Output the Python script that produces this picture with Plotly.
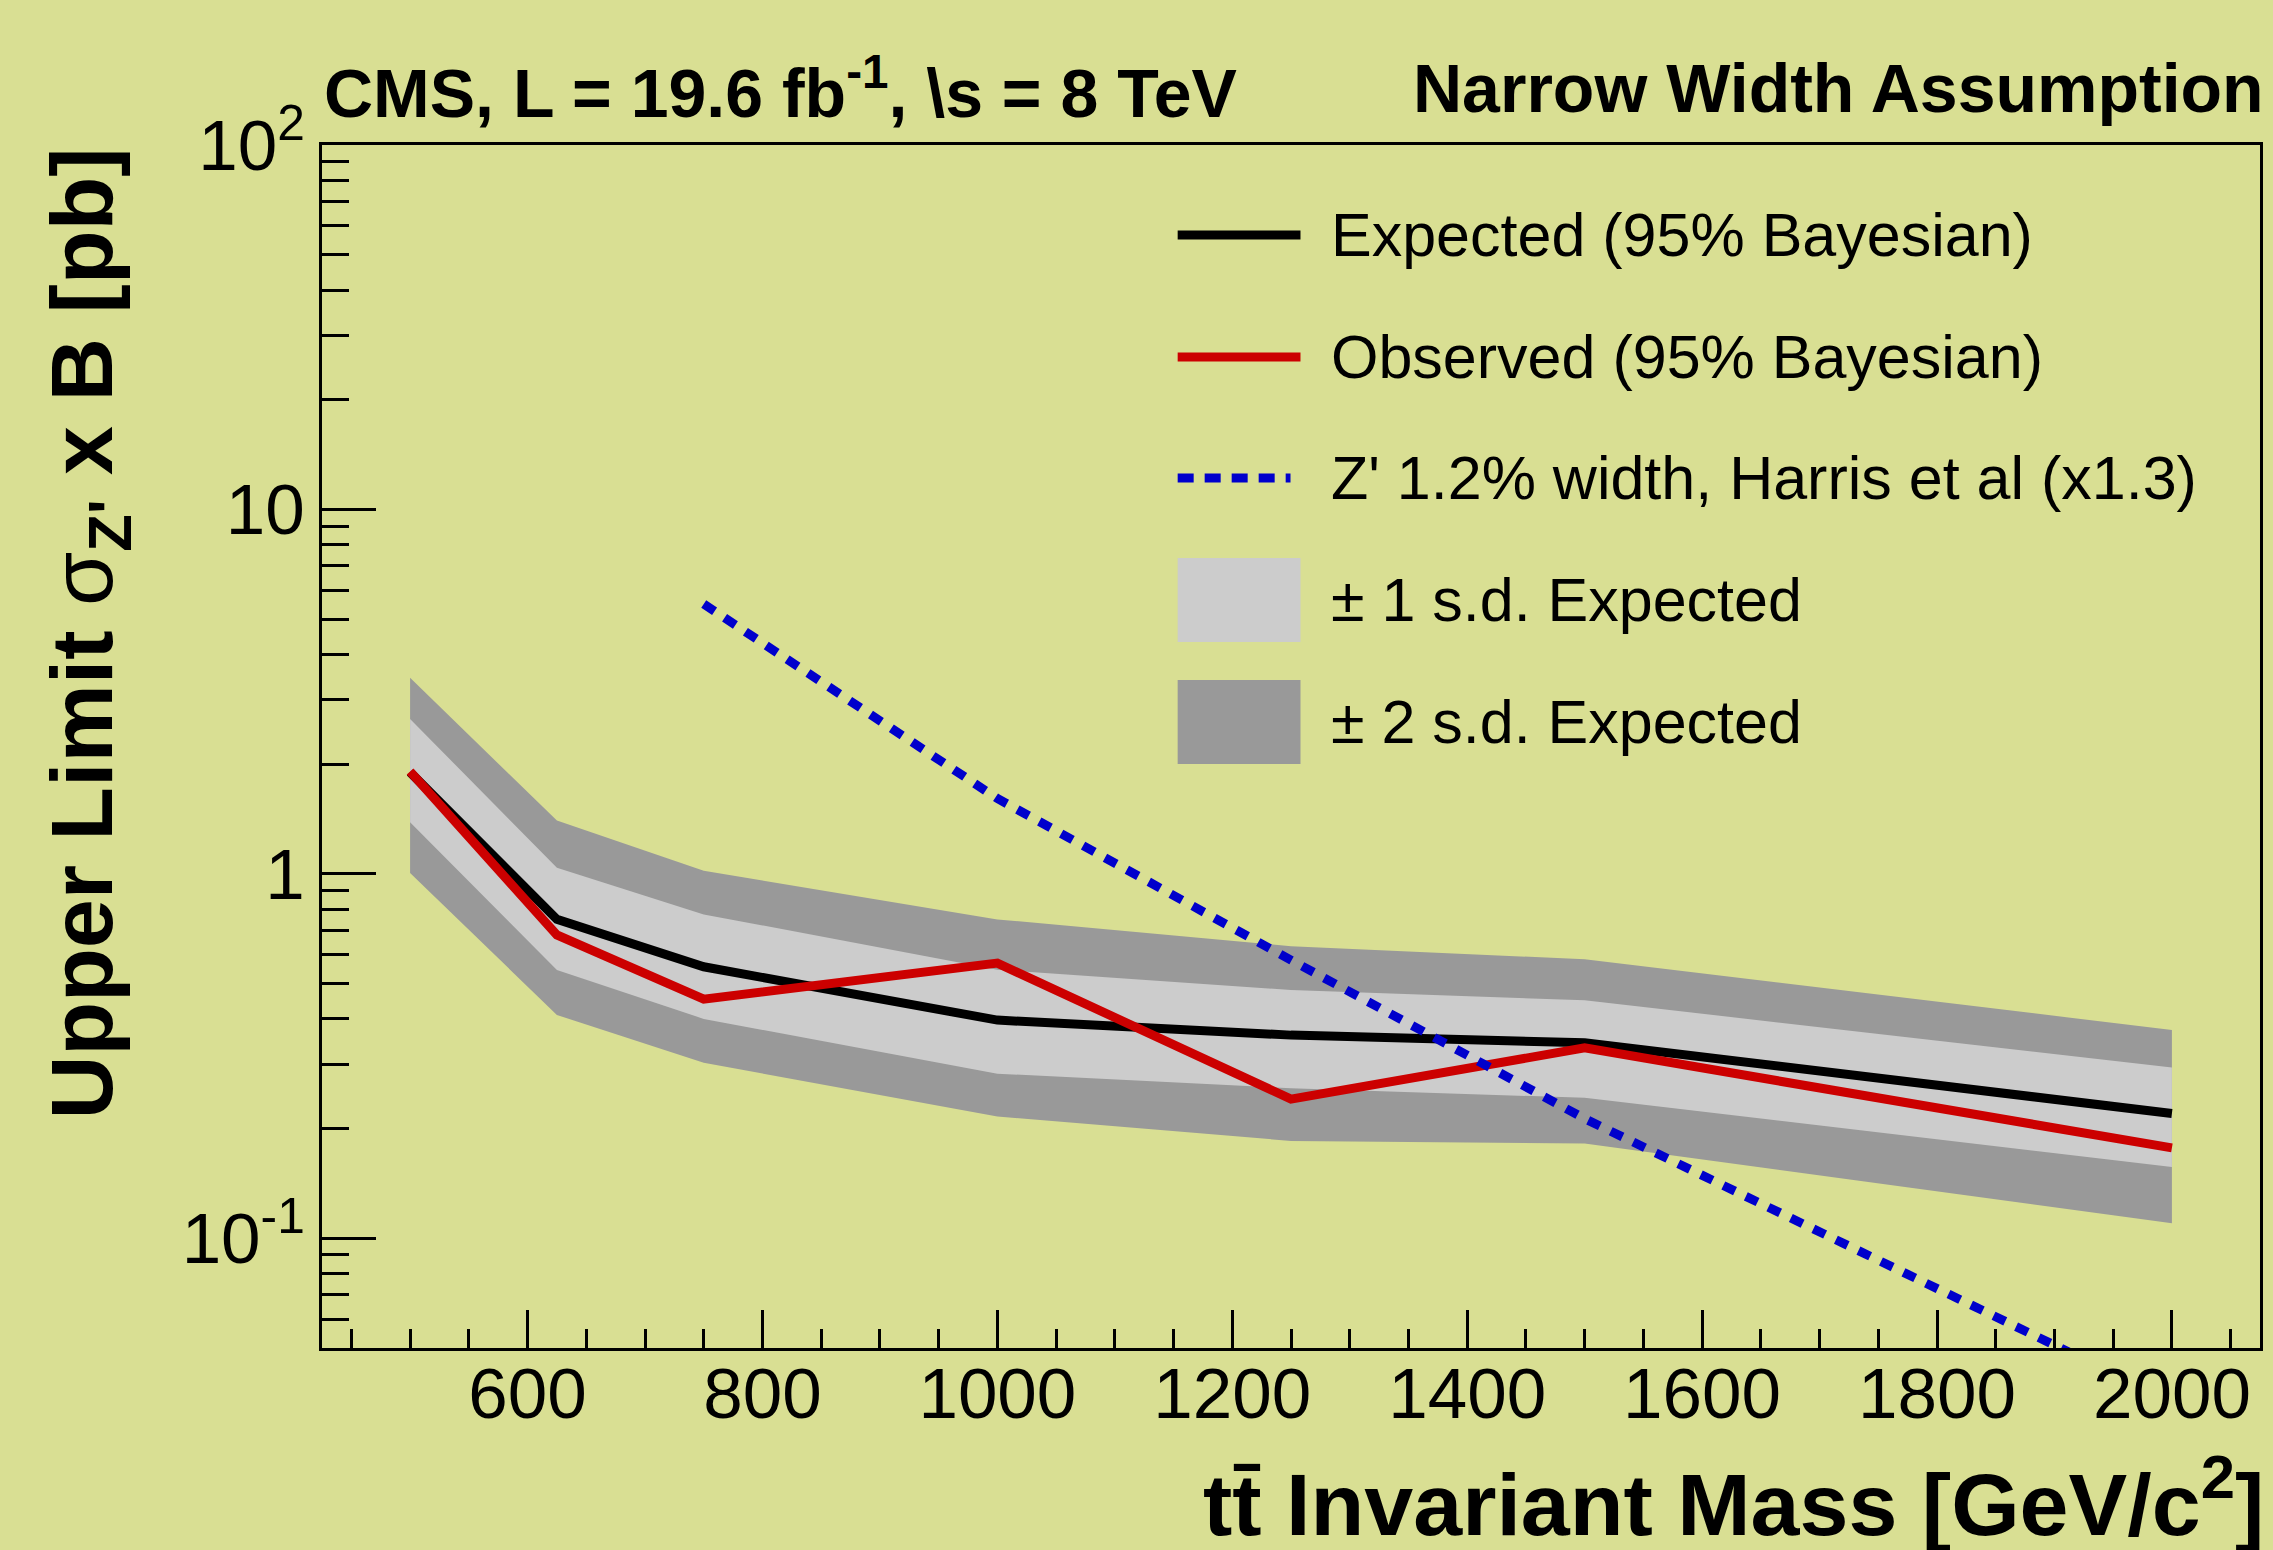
import plotly.graph_objects as go

# ---------------- data ----------------
mass = [500, 625, 750, 1000, 1250, 1500, 2000]
expected = [1.90, 0.75, 0.556, 0.397, 0.361, 0.344, 0.220]
observed = [1.91, 0.68, 0.453, 0.569, 0.241, 0.333, 0.177]
band1_up = [2.66, 1.04, 0.774, 0.546, 0.480, 0.450, 0.294]
band1_dn = [1.385, 0.545, 0.400, 0.283, 0.258, 0.243, 0.157]
band2_up = [3.45, 1.40, 1.02, 0.750, 0.633, 0.583, 0.373]
band2_dn = [1.006, 0.410, 0.303, 0.216, 0.185, 0.182, 0.110]

zp_mass = [750, 1000, 1250, 1500, 2000]
zp_xsec = [5.5, 1.61, 0.58, 0.213, 0.0356]

x_tickvals = [600, 800, 1000, 1200, 1400, 1600, 1800, 2000]
x_minor = [450, 500, 550, 650, 700, 750, 850, 900, 950, 1050, 1100, 1150,
           1250, 1300, 1350, 1450, 1500, 1550, 1650, 1700, 1750, 1850, 1900,
           1950, 2050]
y_tickvals = [0.1, 1, 10, 100]
y_ticktext = ["10<sup>-1</sup>", "1", "10", "10<sup>2</sup>"]
y_minor = [0.06, 0.07, 0.08, 0.09,
           0.2, 0.3, 0.4, 0.5, 0.6, 0.7, 0.8, 0.9,
           2, 3, 4, 5, 6, 7, 8, 9,
           20, 30, 40, 50, 60, 70, 80, 90]

legend_labels = ["Expected (95% Bayesian)",
                 "Observed (95% Bayesian)",
                 "Z' 1.2% width, Harris et al (x1.3)",
                 "\u00b1 1 s.d. Expected",
                 "\u00b1 2 s.d. Expected"]

# ---------------- style ----------------
BG = "#d9df93"
FONT = "Liberation Sans, Arial, Helvetica, sans-serif"
C_EXP = "#000000"
C_OBS = "#cc0000"
C_ZP = "#0000cc"
C_1SD = "#cccccc"
C_2SD = "#999999"
LW = 9
DASH = "13px,12px"
DASH_LEG = "16px,11px"

fig = go.Figure()

fig.add_trace(go.Scatter(
    x=mass + mass[::-1], y=band2_up + band2_dn[::-1],
    fill="toself", fillcolor=C_2SD, line=dict(width=0),
    mode="lines", hoverinfo="skip", showlegend=False))
fig.add_trace(go.Scatter(
    x=mass + mass[::-1], y=band1_up + band1_dn[::-1],
    fill="toself", fillcolor=C_1SD, line=dict(width=0),
    mode="lines", hoverinfo="skip", showlegend=False))
fig.add_trace(go.Scatter(
    x=mass, y=expected, mode="lines",
    line=dict(color=C_EXP, width=LW), showlegend=False))
fig.add_trace(go.Scatter(
    x=mass, y=observed, mode="lines",
    line=dict(color=C_OBS, width=LW), showlegend=False))
fig.add_trace(go.Scatter(
    x=zp_mass, y=zp_xsec, mode="lines",
    line=dict(color=C_ZP, width=LW, dash=DASH), showlegend=False))

# ---------------- manual legend ----------------
W, H = 2273, 1550
L, R, T, B = 322, 10, 145, 202
pw, ph = W - L - R, H - T - B


def px_x(p):
    return (p - L) / pw


def px_y(p):
    return (H - B - p) / ph


row_px = [235, 357, 478, 600, 722]
sx0, sx1, tx = px_x(1179), px_x(1302), px_x(1331)
shapes = []
line_styles = [dict(color=C_EXP, width=LW),
               dict(color=C_OBS, width=LW),
               dict(color=C_ZP, width=LW, dash=DASH_LEG)]
for i, st in enumerate(line_styles):
    yy = px_y(row_px[i])
    shapes.append(dict(type="line", xref="paper", yref="paper",
                       x0=sx0, x1=sx1 if i < 2 else px_x(1292), y0=yy, y1=yy, line=st))
for i, col in zip([3, 4], [C_1SD, C_2SD]):
    yy = px_y(row_px[i])
    hh = 42 / ph
    shapes.append(dict(type="rect", xref="paper", yref="paper",
                       x0=sx0, x1=sx1, y0=yy - hh, y1=yy + hh,
                       fillcolor=col, line=dict(width=0)))

annotations = []
for i, lab in enumerate(legend_labels):
    annotations.append(dict(xref="paper", yref="paper", x=tx, y=px_y(row_px[i]),
                            xanchor="left", yanchor="middle", showarrow=False,
                            text=lab, font=dict(family=FONT, size=61, color="black")))

# header texts
annotations.append(dict(xref="paper", yref="paper", x=0, y=px_y(88),
                        xanchor="left", yanchor="middle", showarrow=False,
                        text="<b>CMS, L = 19.6 fb<sup>-1</sup>, \\s = 8 TeV</b>",
                        font=dict(family=FONT, size=68, color="black")))
annotations.append(dict(xref="paper", yref="paper", x=px_x(2269), y=px_y(88),
                        xanchor="right", yanchor="middle", showarrow=False,
                        text="<b>Narrow Width Assumption</b>",
                        font=dict(family=FONT, size=68, color="black")))
# axis titles
annotations.append(dict(xref="paper", yref="paper", x=px_x(87), y=1.0,
                        xanchor="center", yanchor="top", showarrow=False,
                        textangle=-90,
                        text="<b>Upper Limit </b>\u03c3<sub><b>Z'</b></sub><b> x B [pb]</b>",
                        font=dict(family=FONT, size=88, color="black")))
annotations.append(dict(xref="paper", yref="paper", x=px_x(2269), y=px_y(1498),
                        xanchor="right", yanchor="middle", showarrow=False,
                        text="<b>tt\u0304 Invariant Mass [GeV/c<sup>2</sup>]</b>",
                        font=dict(family=FONT, size=88, color="black")))

fig.update_layout(
    width=W, height=H,
    margin=dict(l=L, r=R, t=T, b=B, pad=0),
    paper_bgcolor=BG, plot_bgcolor=BG,
    showlegend=False,
    shapes=shapes, annotations=annotations,
    font=dict(family=FONT, color="black"),
    xaxis=dict(
        range=[425, 2075], showgrid=False, zeroline=False,
        showline=True, linecolor="black", linewidth=3, mirror=True,
        tickmode="array", tickvals=x_tickvals,
        ticks="inside", ticklen=38, tickwidth=3, tickcolor="black",
        ticklabelstandoff=-18,
        tickfont=dict(family=FONT, size=71, color="black"),
        minor=dict(tickmode="array", tickvals=x_minor, ticks="inside",
                   ticklen=19, tickwidth=3, tickcolor="black", showgrid=False),
    ),
    yaxis=dict(
        type="log", range=[-1.30103, 2], showgrid=False, zeroline=False,
        showline=True, linecolor="black", linewidth=3, mirror=True,
        tickmode="array", tickvals=y_tickvals, ticktext=y_ticktext,
        ticks="inside", ticklen=54, tickwidth=3, tickcolor="black",
        tickfont=dict(family=FONT, size=71, color="black"),
        minor=dict(tickmode="array", tickvals=y_minor, ticks="inside",
                   ticklen=27, tickwidth=3, tickcolor="black", showgrid=False),
    ),
)

fig.write_html("out.html")
